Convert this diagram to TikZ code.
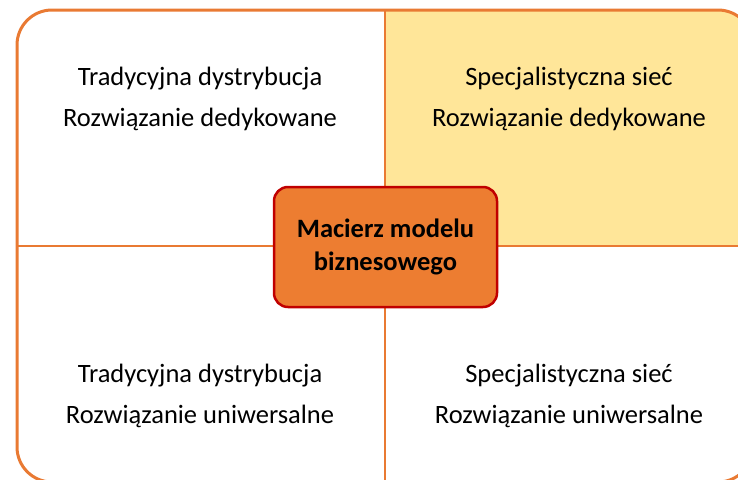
\documentclass[tikz,border=0pt]{standalone}
\usepackage{fontspec}
\setmainfont{Carlito}
\usetikzlibrary{positioning}
\definecolor{frameorange}{HTML}{E97A33}
\definecolor{boxorange}{HTML}{ED7D31}
\definecolor{boxred}{HTML}{C00000}
\definecolor{quadyellow}{HTML}{FFE699}

\begin{document}
\begin{tikzpicture}[x=1pt, y=-1pt,
quadtext/.style={font=\fontsize{26.5}{41}\selectfont, align=center, text=black},
centerbox/.style={draw=boxred, fill=boxorange, line width=2.5pt, rounded corners=14pt,
    minimum width=223pt, minimum height=120pt, align=center,
    font=\bfseries\fontsize{26.5}{33}\selectfont},
divider/.style={draw=frameorange, line width=2.7pt}
]
    \useasboundingbox (0,0) rectangle (738,479);
    \begin{scope}
    \clip (0,0) rectangle (738,479);
    %Background
    \begin{scope}
        \clip[rounded corners=35pt] (17,10) rectangle (753,482);
        \fill[quadyellow] (385,10) rectangle (753,246);
    \end{scope}
    %Lines
    \coordinate (vtop) at (385,10);
    \coordinate (vbot) at (385,482);
    \coordinate (hleft) at (17,246);
    \coordinate (hright) at (753,246);
    \draw[divider] (vtop) -- (vbot);
    \draw[divider] (hleft) -- (hright);
    \draw[divider, line width=3pt, rounded corners=35pt] (17,10) rectangle (753,482);
    \end{scope}

    %Nodes
    \node[quadtext]
        (tl) at (200,99)    {Tradycyjna dystrybucja\\Rozwiązanie dedykowane};
    \node[quadtext]
        (tr) at (569,99)    {Specjalistyczna sieć\\Rozwiązanie dedykowane};
    \node[quadtext]
        (bl) at (200,396)   {Tradycyjna dystrybucja\\Rozwiązanie uniwersalne};
    \node[quadtext]
        (br) at (569,396)   {Specjalistyczna sieć\\Rozwiązanie uniwersalne};
    \node[centerbox]
        (matrix) at (385.5,247) {Macierz modelu\\biznesowego};
\end{tikzpicture}
\end{document}
